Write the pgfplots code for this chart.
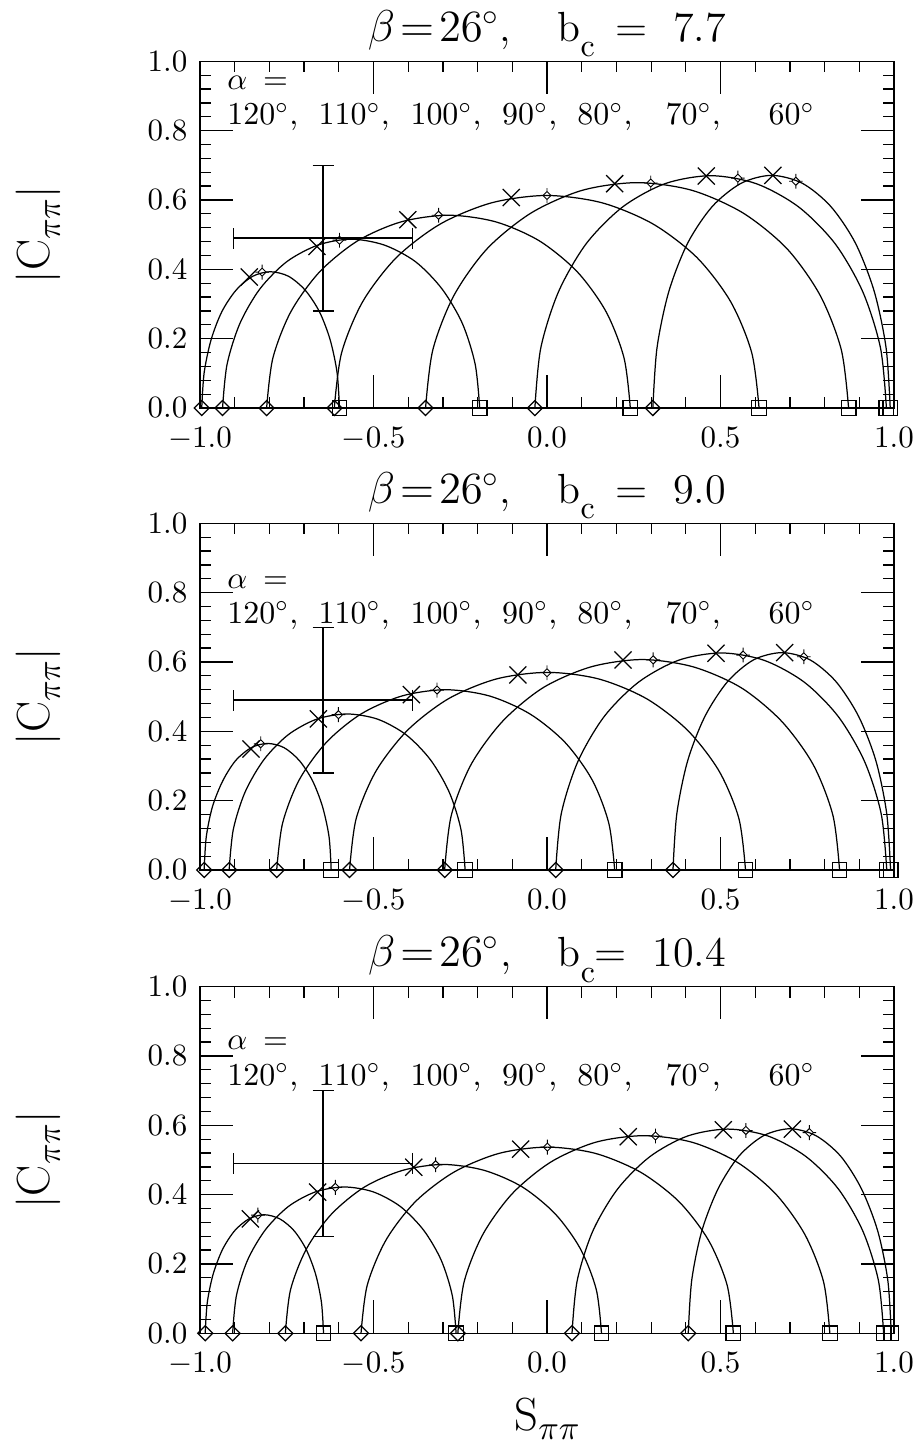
\documentclass[border=0pt]{standalone}
\usepackage{pgfplots}
\pgfplotsset{compat=1.18}

% hollow diamond with equal half-width and half-height
\pgfdeclareplotmark{rdia}{%
  \pgfpathmoveto{\pgfqpoint{0pt}{\pgfplotmarksize}}%
  \pgfpathlineto{\pgfqpoint{\pgfplotmarksize}{0pt}}%
  \pgfpathlineto{\pgfqpoint{0pt}{-\pgfplotmarksize}}%
  \pgfpathlineto{\pgfqpoint{-\pgfplotmarksize}{0pt}}%
  \pgfpathclose\pgfusepathqstroke}
% small diamond with a cross through it
\pgfdeclareplotmark{dplus}{%
  \pgfpathmoveto{\pgfqpoint{0pt}{2.4pt}}\pgfpathlineto{\pgfqpoint{0pt}{1.3pt}}%
  \pgfpathmoveto{\pgfqpoint{0pt}{-1.3pt}}\pgfpathlineto{\pgfqpoint{0pt}{-2.4pt}}%
  \pgfpathmoveto{\pgfqpoint{-2.2pt}{0pt}}\pgfpathlineto{\pgfqpoint{-1.3pt}{0pt}}%
  \pgfpathmoveto{\pgfqpoint{1.3pt}{0pt}}\pgfpathlineto{\pgfqpoint{2.2pt}{0pt}}%
  \pgfpathmoveto{\pgfqpoint{0pt}{1.3pt}}\pgfpathlineto{\pgfqpoint{1.3pt}{0pt}}%
  \pgfpathlineto{\pgfqpoint{0pt}{-1.3pt}}\pgfpathlineto{\pgfqpoint{-1.3pt}{0pt}}%
  \pgfpathclose\pgfusepathqstroke}

\newcommand{\bc}{b\raisebox{-5pt}{\fontsize{10.3}{11}\selectfont c}}
\newcommand{\pipi}{\raisebox{-3.2pt}{$\scriptstyle\pi\pi$}}
\newcommand{\lab}{\fontsize{10.3}{12}\selectfont}

\newcommand{\alphas}[2]{%
  \node[anchor=base west, inner sep=0pt, font=\lab] at (axis cs:-0.923,#1) {$\alpha$\hspace{0.5em}=};
  \node[anchor=base west, inner sep=0pt, font=\lab] at (axis cs:-0.923,#2) {120$^\circ$,};
  \node[anchor=base west, inner sep=0pt, font=\lab] at (axis cs:-0.660,#2) {110$^\circ$,};
  \node[anchor=base west, inner sep=0pt, font=\lab] at (axis cs:-0.395,#2) {100$^\circ$,};
  \node[anchor=base west, inner sep=0pt, font=\lab] at (axis cs:-0.131,#2) {90$^\circ$,};
  \node[anchor=base west, inner sep=0pt, font=\lab] at (axis cs:0.086,#2) {80$^\circ$,};
  \node[anchor=base west, inner sep=0pt, font=\lab] at (axis cs:0.340,#2) {70$^\circ$,};
  \node[anchor=base west, inner sep=0pt, font=\lab] at (axis cs:0.637,#2) {60$^\circ$};
}
\newcommand{\ylab}{%
  \node[rotate=90, anchor=base, font=\fontsize{15}{17}\selectfont]
    at ([xshift=-48.4pt]rel axis cs:0,0.5) {$|$C\pipi$|$};
}
\newcommand{\meas}{%
  \addplot[black, line width=0.45pt, only marks, mark=*, mark size=0pt,
    error bars/.cd, x dir=both, x explicit, y dir=both, y explicit,
    error bar style={line width=0.45pt},
    error mark=-,
    error mark options={black, rotate=90, mark size=3.4pt, line width=0.45pt}]
    coordinates {(-0.645,0.490) +- (0.258,0.210)};
}

\tikzset{ttl/.style={anchor=base, inner sep=0pt, font=\fontsize{13.6}{16}\selectfont}}
\pgfplotsset{
  panel/.style={
    scale only axis, width=223.9pt, height=111.85pt,
    xmin=-1, xmax=1, ymin=0, ymax=1,
    xtick={-1,-0.5,0,0.5,1}, ytick={0,0.2,0.4,0.6,0.8,1},
    minor x tick num=4, minor y tick num=4,
    tick align=inside, major tick length=10.6pt, minor tick length=3.55pt,
    tick style={black, line width=0.4pt},
    axis line style={line width=0.5pt},
    tick label style={font=\fontsize{10}{12}\selectfont,
      /pgf/number format/fixed, /pgf/number format/fixed zerofill,
      /pgf/number format/precision=1},
    xticklabel style={anchor=base, inner sep=0pt, yshift=-12.6pt},
    yticklabel style={anchor=east, inner sep=0pt, xshift=-3.9pt},
    clip=false, anchor=south west,
  },
  arc/.style={black, line width=0.4pt, mark=none, smooth},
  ends/.style={black, only marks, line width=0.4pt},
}

\begin{document}
\begin{tikzpicture}
\useasboundingbox (0pt,0pt) rectangle (297.12pt,-466.48pt);

% ---------------- b_c = 7.7 ----------------
\begin{axis}[panel, at={(64.52pt,-131.62pt)}]
\addplot[arc] coordinates {(-0.995,0) (-0.988,0.102) (-0.968,0.197) (-0.937,0.278) (-0.896,0.340) (-0.848,0.380) (-0.797,0.393) (-0.745,0.380) (-0.697,0.340) (-0.656,0.278) (-0.625,0.197) (-0.605,0.102) (-0.598,0)};
\addplot[arc] coordinates {(-0.935,0) (-0.922,0.126) (-0.885,0.244) (-0.827,0.344) (-0.750,0.422) (-0.660,0.470) (-0.565,0.487) (-0.469,0.470) (-0.379,0.422) (-0.303,0.344) (-0.244,0.244) (-0.207,0.126) (-0.194,0)};
\addplot[arc] coordinates {(-0.808,0) (-0.790,0.144) (-0.738,0.278) (-0.655,0.393) (-0.546,0.482) (-0.420,0.537) (-0.284,0.556) (-0.148,0.537) (-0.022,0.482) (0.087,0.393) (0.170,0.278) (0.222,0.144) (0.240,0)};
\addplot[arc] coordinates {(-0.613,0) (-0.592,0.159) (-0.531,0.307) (-0.434,0.434) (-0.307,0.531) (-0.159,0.592) (-0.001,0.613) (0.158,0.592) (0.305,0.531) (0.432,0.434) (0.529,0.307) (0.590,0.159) (0.611,0)};
\addplot[arc] coordinates {(-0.350,0) (-0.329,0.168) (-0.268,0.325) (-0.172,0.460) (-0.045,0.563) (0.102,0.628) (0.260,0.650) (0.417,0.628) (0.564,0.563) (0.691,0.460) (0.787,0.325) (0.848,0.168) (0.869,0)};
\addplot[arc] coordinates {(-0.035,0) (-0.018,0.173) (0.033,0.335) (0.113,0.474) (0.218,0.580) (0.340,0.647) (0.472,0.670) (0.603,0.647) (0.725,0.580) (0.830,0.474) (0.910,0.335) (0.961,0.173) (0.978,0)};
\addplot[arc] coordinates {(0.305,0) (0.317,0.174) (0.351,0.336) (0.405,0.475) (0.476,0.581) (0.559,0.648) (0.647,0.671) (0.736,0.648) (0.818,0.581) (0.889,0.475) (0.943,0.336) (0.977,0.174) (0.989,0)};
\addplot[ends, mark=rdia, mark size=2.42pt] coordinates {(-0.995,0) (-0.935,0) (-0.808,0) (-0.6125,0) (-0.350,0) (-0.035,0) (0.305,0)};
\addplot[ends, mark=square, mark size=2.36pt] coordinates {(-0.598,0) (-0.194,0) (0.240,0) (0.611,0) (0.869,0) (0.978,0) (0.989,0)};
\addplot[ends, mark=x, mark size=3.9pt] coordinates {(-0.858,0.378) (-0.663,0.466) (-0.401,0.543) (-0.103,0.607) (0.195,0.647) (0.459,0.669) (0.651,0.671)};
\addplot[ends, mark=dplus, line width=0.3pt] coordinates {(-0.821,0.392) (-0.598,0.484) (-0.3125,0.556) (0.0,0.613) (0.299,0.649) (0.550,0.663) (0.717,0.654)};
\meas
\alphas{0.918}{0.817}
\ylab
\node[ttl] at ([yshift=6.4pt]rel axis cs:0.5,1)
  {$\beta\!=\!26^\circ$,\hspace{1.1em}\bc\hspace{0.5em}=\hspace{0.6em}7.7};
\end{axis}

% ---------------- b_c = 9.0 ----------------
\begin{axis}[panel, at={(64.52pt,-280.66pt)}]
\addplot[arc] coordinates {(-0.988,0) (-0.982,0.095) (-0.964,0.183) (-0.934,0.258) (-0.897,0.316) (-0.852,0.353) (-0.805,0.365) (-0.758,0.353) (-0.714,0.316) (-0.676,0.258) (-0.647,0.183) (-0.628,0.095) (-0.622,0)};
\addplot[arc] coordinates {(-0.916,0) (-0.904,0.117) (-0.870,0.225) (-0.816,0.318) (-0.746,0.390) (-0.664,0.435) (-0.576,0.450) (-0.488,0.435) (-0.406,0.390) (-0.336,0.318) (-0.282,0.225) (-0.248,0.117) (-0.236,0)};
\addplot[arc] coordinates {(-0.779,0) (-0.762,0.135) (-0.714,0.260) (-0.636,0.368) (-0.536,0.450) (-0.418,0.502) (-0.292,0.520) (-0.166,0.502) (-0.049,0.450) (0.052,0.368) (0.130,0.260) (0.178,0.135) (0.195,0)};
\addplot[arc] coordinates {(-0.569,0) (-0.550,0.148) (-0.493,0.285) (-0.402,0.403) (-0.284,0.494) (-0.146,0.551) (0.002,0.570) (0.149,0.551) (0.287,0.494) (0.405,0.403) (0.496,0.285) (0.553,0.148) (0.572,0)};
\addplot[arc] coordinates {(-0.295,0) (-0.276,0.157) (-0.219,0.304) (-0.128,0.429) (-0.011,0.526) (0.127,0.586) (0.274,0.607) (0.421,0.586) (0.559,0.526) (0.676,0.429) (0.767,0.304) (0.824,0.157) (0.843,0)};
\addplot[arc] coordinates {(0.025,0) (0.041,0.162) (0.089,0.313) (0.165,0.443) (0.264,0.542) (0.379,0.605) (0.502,0.626) (0.625,0.605) (0.741,0.542) (0.839,0.443) (0.915,0.313) (0.963,0.162) (0.979,0)};
\addplot[arc] coordinates {(0.363,0) (0.374,0.162) (0.405,0.314) (0.455,0.443) (0.520,0.543) (0.595,0.606) (0.677,0.627) (0.758,0.606) (0.833,0.543) (0.898,0.443) (0.948,0.314) (0.979,0.162) (0.990,0)};
\addplot[ends, mark=rdia, mark size=2.42pt] coordinates {(-0.988,0) (-0.916,0) (-0.779,0) (-0.569,0) (-0.295,0) (0.025,0) (0.363,0)};
\addplot[ends, mark=square, mark size=2.36pt] coordinates {(-0.622,0) (-0.236,0) (0.195,0) (0.572,0) (0.843,0) (0.979,0) (0.990,0)};
\addplot[ends, mark=x, mark size=3.9pt] coordinates {(-0.853,0.349) (-0.659,0.436) (-0.391,0.506) (-0.084,0.5625) (0.219,0.606) (0.487,0.625) (0.685,0.627)};
\addplot[ends, mark=dplus, line width=0.3pt] coordinates {(-0.825,0.364) (-0.601,0.448) (-0.317,0.519) (0.0,0.569) (0.306,0.606) (0.565,0.620) (0.740,0.615)};
\meas
\alphas{0.812}{0.712}
\ylab
\node[ttl] at ([yshift=6.4pt]rel axis cs:0.5,1)
  {$\beta\!=\!26^\circ$,\hspace{1.1em}\bc\hspace{0.5em}=\hspace{0.6em}9.0};
\end{axis}

% ---------------- b_c = 10.4 ----------------
\begin{axis}[panel, at={(64.52pt,-430.12pt)}]
\addplot[arc] coordinates {(-0.985,0) (-0.979,0.089) (-0.962,0.171) (-0.935,0.242) (-0.900,0.296) (-0.859,0.330) (-0.815,0.342) (-0.770,0.330) (-0.729,0.296) (-0.694,0.242) (-0.667,0.171) (-0.650,0.089) (-0.644,0)};
\addplot[arc] coordinates {(-0.906,0) (-0.895,0.109) (-0.863,0.211) (-0.812,0.298) (-0.745,0.366) (-0.667,0.408) (-0.584,0.422) (-0.501,0.408) (-0.423,0.366) (-0.356,0.298) (-0.305,0.211) (-0.273,0.109) (-0.262,0)};
\addplot[arc] coordinates {(-0.754,0) (-0.739,0.126) (-0.693,0.244) (-0.621,0.344) (-0.526,0.422) (-0.416,0.470) (-0.299,0.487) (-0.181,0.470) (-0.071,0.422) (0.024,0.344) (0.096,0.244) (0.142,0.126) (0.157,0)};
\addplot[arc] coordinates {(-0.536,0) (-0.518,0.139) (-0.464,0.269) (-0.379,0.380) (-0.268,0.465) (-0.138,0.519) (0.001,0.537) (0.139,0.519) (0.269,0.465) (0.380,0.380) (0.465,0.269) (0.519,0.139) (0.537,0)};
\addplot[arc] coordinates {(-0.257,0) (-0.239,0.148) (-0.185,0.285) (-0.100,0.403) (0.011,0.494) (0.140,0.551) (0.279,0.570) (0.418,0.551) (0.547,0.494) (0.658,0.403) (0.743,0.285) (0.797,0.148) (0.815,0)};
\addplot[arc] coordinates {(0.072,0) (0.087,0.152) (0.132,0.295) (0.204,0.417) (0.297,0.510) (0.405,0.569) (0.521,0.589) (0.637,0.569) (0.746,0.510) (0.839,0.417) (0.910,0.295) (0.955,0.152) (0.970,0)};
\addplot[arc] coordinates {(0.407,0) (0.417,0.153) (0.446,0.295) (0.493,0.417) (0.553,0.511) (0.624,0.570) (0.700,0.590) (0.775,0.570) (0.846,0.511) (0.906,0.417) (0.953,0.295) (0.982,0.153) (0.992,0)};
\addplot[ends, mark=rdia, mark size=2.42pt] coordinates {(-0.985,0) (-0.906,0) (-0.754,0) (-0.536,0) (-0.257,0) (0.072,0) (0.407,0)};
\addplot[ends, mark=square, mark size=2.36pt] coordinates {(-0.644,0) (-0.262,0) (0.157,0) (0.537,0) (0.815,0) (0.970,0) (0.992,0)};
\addplot[ends, mark=x, mark size=3.9pt] coordinates {(-0.855,0.330) (-0.661,0.407) (-0.384,0.479) (-0.076,0.531) (0.234,0.567) (0.508,0.587) (0.707,0.589)};
\addplot[ends, mark=dplus, line width=0.3pt] coordinates {(-0.833,0.341) (-0.610,0.421) (-0.321,0.486) (0.001,0.537) (0.3125,0.569) (0.573,0.585) (0.756,0.579)};
\meas
\alphas{0.820}{0.716}
\ylab
\node[ttl] at ([yshift=6.4pt]rel axis cs:0.5,1)
  {$\beta\!=\!26^\circ$,\hspace{1.1em}\bc=\hspace{0.6em}10.4};
\node[anchor=base, font=\fontsize{15}{17}\selectfont]
  at ([yshift=-31.2pt]rel axis cs:0.5,0) {S\pipi};
\end{axis}
\end{tikzpicture}
\end{document}
